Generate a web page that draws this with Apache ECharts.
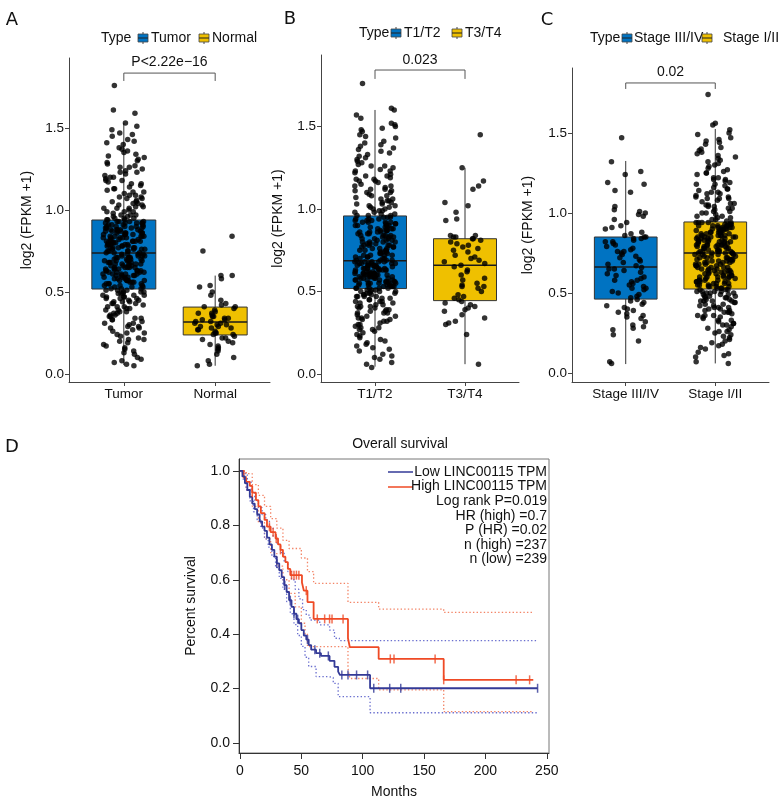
<!DOCTYPE html>
<html>
<head>
<meta charset="utf-8">
<script src="https://cdn.jsdelivr.net/npm/echarts@6/dist/echarts.min.js"></script>
<style>
  html, body { margin: 0; padding: 0; background: #fff; }
  #main { width: 782px; height: 808px; }
</style>
</head>
<body>
<div id="main"></div>
<script>
// ---- data ----
var catsA = ['Tumor', 'Normal'];
var catsB = ['T1/T2', 'T3/T4'];
var catsC = ['Stage III/IV', 'Stage I/II'];
var pLabels = ['P<2.22e\u221216', '0.023', '0.02'];
var yTicks = [0, 0.5, 1, 1.5];

// box summaries: [lower whisker, Q1, median, Q3, upper whisker]
var boxTumor = [0.055, 0.518, 0.738, 0.939, 1.53];
var boxNormal = [0.05, 0.238, 0.317, 0.408, 0.60];
var boxT12 = [0.045, 0.518, 0.687, 0.958, 1.60];
var boxT34 = [0.06, 0.445, 0.66, 0.82, 1.25];
var boxS34 = [0.056, 0.462, 0.663, 0.85, 1.325];
var boxS12 = [0.06, 0.525, 0.75, 0.944, 1.525];

// individual samples, log2(FPKM+1) in hundredths
var tumorVals = [5,6,8,7,10,12,13,16,15,18,19,21,20,22,24,23,26,25,27,28,29,31,30,32,33,34,35,34,36,37,38,39,38,40,41,40,42,43,44,43,45,44,46,47,46,48,47,49,48,50,49,51,50,51,52,36,41,45,29,47,
  53,54,53,55,56,55,57,58,57,59,60,59,61,60,62,61,63,62,64,63,65,64,66,65,67,66,68,67,69,68,70,69,71,70,72,71,73,72,74,73,54,58,62,66,70,56,60,64,68,72,57,61,65,69,73,55,59,63,67,71,
  75,76,75,77,78,77,79,80,79,81,82,81,83,84,83,85,86,85,87,88,87,89,90,89,91,92,91,93,94,93,76,78,80,82,84,86,88,90,92,94,77,79,81,83,85,87,89,91,93,76,80,84,88,92,78,82,86,90,83,87,
  95,96,95,97,98,97,99,100,99,101,102,101,103,104,105,104,106,107,108,109,110,108,111,112,113,115,114,116,118,117,119,121,120,122,124,123,126,125,128,130,127,132,134,131,136,138,135,140,142,145,143,147,149,151,153,159,161,176,96,102,
  9,14,17,21,25,28,31,33,35,37,39,41,43,44,46,48,49,50,51,52,
  52,53,54,55,56,57,58,59,60,61,62,63,64,65,66,67,68,69,70,71,72,73,74,57,61,63,65,67,69,71,
  74,75,76,77,78,79,80,81,82,83,84,85,86,87,88,89,90,91,92,93,75,77,79,81,84,86,88,90,92,94,
  95,97,99,101,103,105,107,109,111,113,116,118,120,123,126,129,133,137,141,146];
var normalVals = [5,6,8,10,12,14,15,16,17,18,19,20,21,22,22,23,24,24,25,25,26,27,27,28,28,29,29,30,30,31,31,32,32,33,33,34,34,35,35,36,37,37,38,39,40,41,41,42,43,45,48,50,53,54,58,60,60,75,84];
var t12Vals = [4,6,7,9,11,12,14,15,17,18,20,21,22,24,25,26,27,28,29,30,31,32,33,34,34,35,36,37,38,38,39,40,41,41,42,43,43,44,45,45,46,47,47,48,48,49,49,50,50,51,51,52,28,33,37,40,44,47,50,52,
  52,53,53,54,54,55,55,56,56,57,57,58,58,59,59,60,60,61,61,62,62,63,63,64,64,65,65,66,66,67,67,68,68,69,53,55,57,59,61,63,65,67,69,54,56,58,60,62,64,66,68,57,61,65,59,63,67,55,60,66,
  69,70,71,72,72,73,74,75,75,76,77,78,78,79,80,81,81,82,83,84,84,85,86,87,87,88,89,90,90,91,92,93,93,94,95,96,70,73,76,79,82,85,88,91,94,71,74,77,80,83,86,89,92,95,72,78,84,90,75,87,
  96,97,98,99,100,100,101,102,103,104,105,106,107,108,109,110,111,112,113,114,116,117,118,119,121,122,123,125,126,128,129,131,133,134,136,138,140,141,143,145,147,149,150,152,155,157,160,161,176,98,102,106,110,115,120,124,127,132,137,148,
  10,16,19,23,27,30,32,35,37,39,42,44,46,48,49,50,51,52,41,47,
  52,53,54,55,56,57,58,59,60,61,62,63,64,65,66,67,68,69,55,58,61,64,67,56,60,63,66,68,
  70,72,74,76,78,80,82,84,86,88,90,92,94,96,71,73,75,77,79,81,83,85,87,89,91,93,95,80,86,92,
  97,99,101,103,105,108,111,114,117,120,123,126,130,135,139,144,151,104,112,118];
var t34Vals = [6,24,30,31,32,34,36,38,39,40,41,42,43,44,45,46,47,48,50,52,53,53,54,55,57,58,60,62,63,65,66,67,68,69,70,71,72,74,75,76,77,78,79,80,81,82,82,83,83,84,84,93,94,98,102,104,112,114,117,125,145];
var s34Vals = [6,7,20,24,27,28,29,30,32,34,35,36,37,38,39,40,41,42,43,44,45,46,
  47,48,49,50,51,52,53,53,54,55,56,57,58,58,59,60,61,62,63,64,65,65,66,
  67,68,69,70,71,72,73,74,75,76,76,77,78,79,80,81,82,82,83,84,84,85,85,
  86,87,88,90,91,92,94,96,98,99,100,101,102,104,113,114,118,119,124,126,132,147];
var s12Vals = [6,7,10,12,13,15,16,18,19,20,22,23,24,25,27,28,29,30,31,32,33,34,35,35,36,37,38,38,39,40,40,41,42,42,43,44,44,45,45,46,47,47,48,48,49,49,50,50,51,51,52,52,26,31,36,41,45,48,51,53,
  53,54,54,55,56,56,57,58,58,59,60,60,61,62,62,63,64,64,65,66,66,67,68,68,69,70,70,71,72,72,73,74,74,75,55,58,61,64,67,70,73,57,60,63,66,69,72,75,59,65,71,56,62,68,74,57,63,69,54,71,
  75,76,76,77,78,78,79,80,80,81,82,82,83,84,84,85,86,86,87,88,88,89,90,90,91,92,92,93,94,94,76,79,82,85,88,91,94,77,80,83,86,89,92,78,81,84,87,90,93,79,85,91,76,82,88,94,80,86,92,83,
  95,96,97,98,99,100,101,102,103,104,105,106,107,108,109,110,111,112,113,114,115,116,118,119,120,121,122,124,125,126,128,129,131,132,134,136,137,139,141,143,145,147,149,150,152,155,156,174,97,101,105,109,113,117,121,125,130,135,140,146,
  11,17,21,26,30,33,36,39,41,43,45,47,49,50,51,52,38,46,
  53,55,57,59,61,63,65,67,69,71,73,75,54,58,62,66,70,74,56,60,64,68,72,60,
  76,78,80,82,84,86,88,90,92,94,77,79,81,83,85,87,89,91,93,75,80,85,90,82,
  96,98,100,103,106,109,112,115,118,122,127,133,138,144,104,110];

// survival (months, fraction surviving)
var lowTime = [0,2,4,6,8,10,12,14,16,18,20,22,24,26,28,30,32,34,36,38,40,42,44,46,48,50,52,54,56,58,62,66,73,77,80,81.5,106,242.5];
var lowSurv = [1,0.98,0.955,0.93,0.905,0.88,0.86,0.84,0.815,0.795,0.78,0.755,0.73,0.71,0.685,0.66,0.635,0.61,0.58,0.555,0.525,0.5,0.475,0.455,0.44,0.415,0.395,0.38,0.36,0.343,0.33,0.32,0.302,0.28,0.262,0.25,0.201,0.201];
var highTime = [0,3,5,8,10,13,15,17,20,22,25,29,31,33,35,37,39,41,50.5,52,55,60,88,89.5,113,166,239];
var highSurv = [1,0.975,0.96,0.945,0.92,0.893,0.87,0.845,0.82,0.795,0.775,0.752,0.73,0.71,0.685,0.665,0.64,0.617,0.59,0.56,0.518,0.456,0.385,0.352,0.309,0.232,0.232];
var lowCens = [30,36.5,41,44,47,55,61,65,72,83,88,95,104,109,122,131,242.5];
var highCens = [10,24,27,29.5,33,42,44,46,48,54,63,69,73,75,84,122.5,125.5,159,166,225,236];
// 95% confidence bands
var lowUpTime = [0,3,6,9,12,15,18,21,24,27,30,33,36,39,42,45,48,51,54,57,65,73,77,81,242.5];
var lowUpSurv = [1,0.99,0.96,0.925,0.89,0.865,0.84,0.82,0.79,0.76,0.73,0.7,0.665,0.63,0.6,0.565,0.53,0.49,0.47,0.452,0.434,0.415,0.385,0.376,0.376];
var lowLoTime = [0,2,5,8,11,14,17,20,23,26,29,32,35,38,41,44,47,50,53,56,62,72,76,80,106,242.5];
var lowLoSurv = [1,0.97,0.93,0.89,0.85,0.82,0.79,0.75,0.72,0.685,0.645,0.605,0.565,0.52,0.475,0.435,0.395,0.355,0.315,0.281,0.244,0.241,0.219,0.17,0.111,0.111];
var highUpTime = [0,5,10,15,20,25,30,35,40,48,50,55,60,88,113,166,239];
var highUpSurv = [1,0.99,0.95,0.91,0.87,0.825,0.79,0.745,0.715,0.715,0.68,0.63,0.587,0.517,0.492,0.48,0.48];
var highLoTime = [0,5,10,15,20,25,30,35,40,45,50,53,55,88,89.5,113,166,239];
var highLoSurv = [1,0.93,0.87,0.81,0.75,0.7,0.65,0.6,0.55,0.5,0.44,0.4,0.354,0.274,0.237,0.195,0.115,0.115];
var kmTicksX = [0, 50, 100, 150, 200, 250];
var kmTicksY = [0, 0.2, 0.4, 0.6, 0.8, 1.0];
var kmNames = ['Low LINC00115 TPM', 'High LINC00115 TPM'];
var kmStats = ['Log rank P=0.019', 'HR (high) =0.7', 'P (HR) =0.02', 'n (high) =237', 'n (low) =239'];

// ---- layout / styles ----
var FONT = "'Liberation Sans', Arial, sans-serif";
var BLUE = '#0073C2', YELLOW = '#EFC000';
var KM_BLUE = '#333a97', KM_RED = '#ef4a25';

var panels = [
  {cats: catsA, vals: [tumorVals, normalVals], boxes: [boxTumor, boxNormal],
   left: 69, top: 58, width: 201, height: 324, yMin: -0.049, yMax: 1.927, nameGap: 35,
   brY: 1.835, brTick: 1.787, txtY: 1.9, letter: ['A', 12, 20],
   legY: 38, legX: [101, 138, 151, 199, 212]},
  {cats: catsB, vals: [t12Vals, t34Vals], boxes: [boxT12, boxT34],
   left: 321, top: 55, width: 198, height: 327, yMin: -0.048, yMax: 1.933, nameGap: 36,
   brY: 1.842, brTick: 1.788, txtY: 1.9, letter: ['B', 290, 19],
   legY: 33, legX: [359, 391, 404, 452, 465]},
  {cats: catsC, vals: [s34Vals, s12Vals], boxes: [boxS34, boxS12],
   left: 572, top: 68, width: 197, height: 314, yMin: -0.056, yMax: 1.906, nameGap: 37,
   brY: 1.8125, brTick: 1.775, txtY: 1.88, letter: ['C', 547, 20],
   legY: 38, legX: [590, 622, 634, 702, 723]}
];

// horizontal jitter only (deterministic)
function jitter(i, seed) {
  var s = Math.sin((i + 1) * 12.9898 + seed * 78.233) * 43758.5453;
  return s - Math.floor(s) - 0.5;
}

function pairs(xs, ys) {
  return xs.map(function (x, k) { return [x, ys[k]]; });
}

function survAt(times, surv, t) {
  var s = surv[0];
  for (var k = 0; k < times.length; k++) {
    if (times[k] <= t) s = surv[k];
  }
  return s;
}

function boxRenderer(colors) {
  return function (params, api) {
    var x = api.value(0);
    var lo = api.coord([x, api.value(1)]);
    var q1 = api.coord([x, api.value(2)]);
    var md = api.coord([x, api.value(3)]);
    var q3 = api.coord([x, api.value(4)]);
    var hi = api.coord([x, api.value(5)]);
    var w = api.size([0.7, 0])[0];
    return {
      type: 'group',
      children: [
        {type: 'line', shape: {x1: lo[0], y1: lo[1], x2: hi[0], y2: hi[1]}, style: {stroke: '#333', lineWidth: 1}},
        {type: 'rect', shape: {x: q3[0] - w / 2, y: q3[1], width: w, height: q1[1] - q3[1]},
         style: {fill: colors[params.dataIndex], stroke: '#333', lineWidth: 1}},
        {type: 'line', shape: {x1: md[0] - w / 2, y1: md[1], x2: md[0] + w / 2, y2: md[1]}, style: {stroke: '#1a1a1a', lineWidth: 1.5}}
      ]
    };
  };
}

var grids = [], xAxes = [], yAxes = [], series = [];

panels.forEach(function (p, i) {
  grids.push({left: p.left, top: p.top, width: p.width, height: p.height});
  xAxes.push({
    gridIndex: i, type: 'value', min: 0.4, max: 2.6,
    splitLine: {show: false},
    axisLine: {show: true, onZero: false, lineStyle: {color: '#444', width: 1}},
    axisTick: {show: true, customValues: [1, 2], length: 4, lineStyle: {color: '#444'}},
    axisLabel: {show: true, customValues: [1, 2], margin: 5, color: '#111', fontSize: 13.5, fontFamily: FONT,
      formatter: function (v) { return p.cats[Math.round(v) - 1]; }}
  });
  yAxes.push({
    gridIndex: i, type: 'value', min: p.yMin, max: p.yMax,
    splitLine: {show: false},
    axisLine: {show: true, onZero: false, lineStyle: {color: '#444', width: 1}},
    axisTick: {show: true, customValues: yTicks, length: 4, lineStyle: {color: '#444'}},
    axisLabel: {show: true, customValues: yTicks, margin: 5, color: '#111', fontSize: 13.5, fontFamily: FONT,
      formatter: function (v) { return v.toFixed(1); }},
    name: 'log2 (FPKM +1)', nameLocation: 'middle', nameGap: p.nameGap,
    nameTextStyle: {fontSize: 14, color: '#111', fontFamily: FONT}
  });
  series.push({
    type: 'custom', xAxisIndex: i, yAxisIndex: i, silent: true, z: 2,
    renderItem: boxRenderer([BLUE, YELLOW]),
    encode: {x: 0, y: [1, 2, 3, 4, 5]},
    data: p.boxes.map(function (b, k) { return [k + 1].concat(b); })
  });
  var pts = [];
  p.vals.forEach(function (vals, g) {
    vals.forEach(function (v, k) {
      pts.push([g + 1 + jitter(k, i * 2 + g + 1) * 0.46, v / 100]);
    });
  });
  series.push({
    type: 'scatter', xAxisIndex: i, yAxisIndex: i, silent: true, z: 3,
    symbolSize: 5.5, itemStyle: {color: '#000'}, data: pts
  });
});

// survival panel
grids.push({left: 239, top: 459, width: 310, height: 294, show: true, borderColor: '#777', borderWidth: 1});
xAxes.push({
  gridIndex: 3, type: 'value', min: -0.8, max: 251.8,
  splitLine: {show: false},
  axisLine: {show: true, onZero: false, lineStyle: {color: '#333', width: 1}},
  axisTick: {show: true, customValues: kmTicksX, length: 6, lineStyle: {color: '#333'}},
  axisLabel: {show: true, customValues: kmTicksX, margin: 11, color: '#111', fontSize: 14, fontFamily: FONT},
  name: 'Months', nameLocation: 'middle', nameGap: 32,
  nameTextStyle: {fontSize: 14, color: '#111', fontFamily: FONT}
});
yAxes.push({
  gridIndex: 3, type: 'value', min: -0.037, max: 1.044,
  splitLine: {show: false},
  axisLine: {show: true, onZero: false, lineStyle: {color: '#333', width: 1}},
  axisTick: {show: true, customValues: kmTicksY, length: 6, lineStyle: {color: '#333'}},
  axisLabel: {show: true, customValues: kmTicksY, margin: 9, color: '#111', fontSize: 14, fontFamily: FONT,
    formatter: function (v) { return v.toFixed(1); }},
  name: 'Percent survival', nameLocation: 'middle', nameGap: 41,
  nameTextStyle: {fontSize: 14, color: '#111', fontFamily: FONT}
});

function kmLine(t, s, color, width, dotted) {
  return {
    type: 'line', xAxisIndex: 3, yAxisIndex: 3, step: 'end', symbol: 'none', silent: true,
    z: dotted ? 2 : 3,
    lineStyle: {color: color, width: width, type: dotted ? [1.4, 2.2] : 'solid'},
    data: pairs(t, s)
  };
}
series.push(kmLine(highUpTime, highUpSurv, '#f38466', 1.3, true));
series.push(kmLine(highLoTime, highLoSurv, '#f38466', 1.3, true));
series.push(kmLine(lowUpTime, lowUpSurv, '#6a6fcf', 1.3, true));
series.push(kmLine(lowLoTime, lowLoSurv, '#6a6fcf', 1.3, true));
series.push(kmLine(highTime, highSurv, KM_RED, 1.8, false));
series.push(kmLine(lowTime, lowSurv, KM_BLUE, 1.8, false));
series.push({
  type: 'scatter', xAxisIndex: 3, yAxisIndex: 3, silent: true, z: 4,
  symbol: 'rect', symbolSize: [1.5, 9], itemStyle: {color: KM_RED},
  data: highCens.map(function (t) { return [t, survAt(highTime, highSurv, t)]; })
});
series.push({
  type: 'scatter', xAxisIndex: 3, yAxisIndex: 3, silent: true, z: 4,
  symbol: 'rect', symbolSize: [1.5, 9], itemStyle: {color: KM_BLUE},
  data: lowCens.map(function (t) { return [t, survAt(lowTime, lowSurv, t)]; })
});

var chart = echarts.init(document.getElementById('main'));
chart.setOption({
  animation: false,
  backgroundColor: '#fff',
  textStyle: {fontFamily: FONT},
  grid: grids, xAxis: xAxes, yAxis: yAxes, series: series
});

// ---- annotations ----
function txt(x, y, s, size, align, family) {
  return {type: 'text', x: x, y: y, silent: true,
    style: {text: s, fontSize: size, fontFamily: family || FONT, fill: '#111',
      align: align || 'left', verticalAlign: 'middle', textAlign: align || 'left', textVerticalAlign: 'middle'}};
}
function legendIcon(x, yc, color) {
  return [
    {type: 'line', silent: true, shape: {x1: x + 5, y1: yc - 6, x2: x + 5, y2: yc + 6}, style: {stroke: '#444', lineWidth: 1}},
    {type: 'rect', silent: true, shape: {x: x, y: yc - 4, width: 10, height: 8}, style: {fill: color, stroke: '#444', lineWidth: 0.8}},
    {type: 'line', silent: true, shape: {x1: x, y1: yc, x2: x + 10, y2: yc}, style: {stroke: '#222', lineWidth: 1}}
  ];
}

var els = [];
panels.forEach(function (p, i) {
  var l0 = chart.convertToPixel({gridIndex: i}, [1, p.brTick]);
  var l1 = chart.convertToPixel({gridIndex: i}, [1, p.brY]);
  var r1 = chart.convertToPixel({gridIndex: i}, [2, p.brY]);
  var r0 = chart.convertToPixel({gridIndex: i}, [2, p.brTick]);
  els.push({type: 'polyline', silent: true, shape: {points: [l0, l1, r1, r0]},
    style: {stroke: '#555', fill: null, lineWidth: 1}});
  var t = chart.convertToPixel({gridIndex: i}, [1.5, p.txtY]);
  els.push(txt(t[0], t[1], pLabels[i], 14, 'center'));
  els.push(txt(p.letter[1], p.letter[2], p.letter[0], 18, 'center', "'DejaVu Sans', sans-serif"));
  els.push(txt(p.legX[0], p.legY, 'Type', 14));
  els = els.concat(legendIcon(p.legX[1], p.legY, BLUE));
  els.push(txt(p.legX[2], p.legY, p.cats[0], 14));
  els = els.concat(legendIcon(p.legX[3], p.legY, YELLOW));
  els.push(txt(p.legX[4], p.legY, p.cats[1], 14));
});

els.push(txt(12, 447, 'D', 18, 'center', "'DejaVu Sans', sans-serif"));
els.push(txt(400, 444, 'Overall survival', 14, 'center'));
els.push({type: 'line', silent: true, shape: {x1: 388, y1: 472, x2: 413, y2: 472}, style: {stroke: KM_BLUE, lineWidth: 1.5}});
els.push({type: 'line', silent: true, shape: {x1: 388, y1: 487, x2: 413, y2: 487}, style: {stroke: KM_RED, lineWidth: 1.5}});
var legLines = kmNames.concat(kmStats);
legLines.forEach(function (s, k) {
  els.push(txt(547, 472 + k * 14.6, s, 14, 'right'));
});

chart.setOption({graphic: {elements: els}});
</script>
</body>
</html>
